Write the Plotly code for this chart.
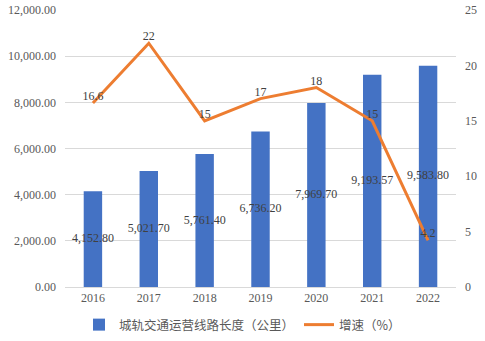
import plotly.graph_objects as go

# Urban rail transit operating length and growth rate, 2016-2022
years = ["2016", "2017", "2018", "2019", "2020", "2021", "2022"]
length_km = [4152.80, 5021.70, 5761.40, 6736.20, 7969.70, 9193.57, 9583.80]
growth_pct = [16.6, 22, 15, 17, 18, 15, 4.2]

length_labels = [f"{v:,.2f}" for v in length_km]
growth_labels = [f"{v:g}" for v in growth_pct]

BLUE = "#4472C4"
ORANGE = "#ED7D31"
TEXT = "#595959"
GRID = "#D9D9D9"
SERIF = "Liberation Serif, Times New Roman, serif"
CJK = "Noto Sans CJK SC, sans-serif"

fig = go.Figure()

fig.add_trace(go.Bar(
    x=years, y=length_km,
    name="城轨交通运营线路长度（公里）",
    marker=dict(color=BLUE, line=dict(width=0)),
    width=0.33,
    hoverinfo="skip",
))

# value labels placed at the middle of each bar
fig.add_trace(go.Scatter(
    x=years, y=[v / 2 for v in length_km],
    mode="text", text=length_labels,
    textfont=dict(family=SERIF, size=12, color="#404040"),
    showlegend=False, hoverinfo="skip",
))

fig.add_trace(go.Scatter(
    x=years, y=growth_pct,
    name="增速（%）",
    yaxis="y2",
    mode="lines+text",
    line=dict(color=ORANGE, width=3),
    text=growth_labels,
    textposition="top center",
    textfont=dict(family=SERIF, size=12, color="#404040"),
    hoverinfo="skip",
))

fig.update_layout(
    width=485, height=341,
    margin=dict(l=65, r=29, t=10, b=54, autoexpand=False),
    paper_bgcolor="white",
    plot_bgcolor="white",
    bargap=0.67,
    showlegend=True,
    legend=dict(
        orientation="h",
        xref="container", yref="container",
        x=0.5, xanchor="center",
        y=1 - 325 / 341, yanchor="middle",
        font=dict(family=CJK, size=12.5, color=TEXT),
        itemwidth=30,
        tracegroupgap=0,
    ),
    xaxis=dict(
        type="category",
        automargin=False,
        showgrid=False,
        showline=True, linecolor=GRID, linewidth=1,
        ticks="",
        tickfont=dict(family=SERIF, size=12, color=TEXT),
    ),
    yaxis=dict(
        range=[0, 12000],
        dtick=2000,
        tickformat=",.2f",
        automargin=False,
        showgrid=True, gridcolor=GRID, gridwidth=1,
        zeroline=False,
        ticks="",
        ticklabelstandoff=8,
        tickfont=dict(family=SERIF, size=12, color=TEXT),
    ),
    yaxis2=dict(
        overlaying="y",
        side="right",
        range=[0, 25],
        dtick=5,
        automargin=False,
        showgrid=False,
        zeroline=False,
        ticks="",
        ticklabelstandoff=8,
        tickfont=dict(family=SERIF, size=12, color=TEXT),
    ),
)

fig.write_html("out.html")
